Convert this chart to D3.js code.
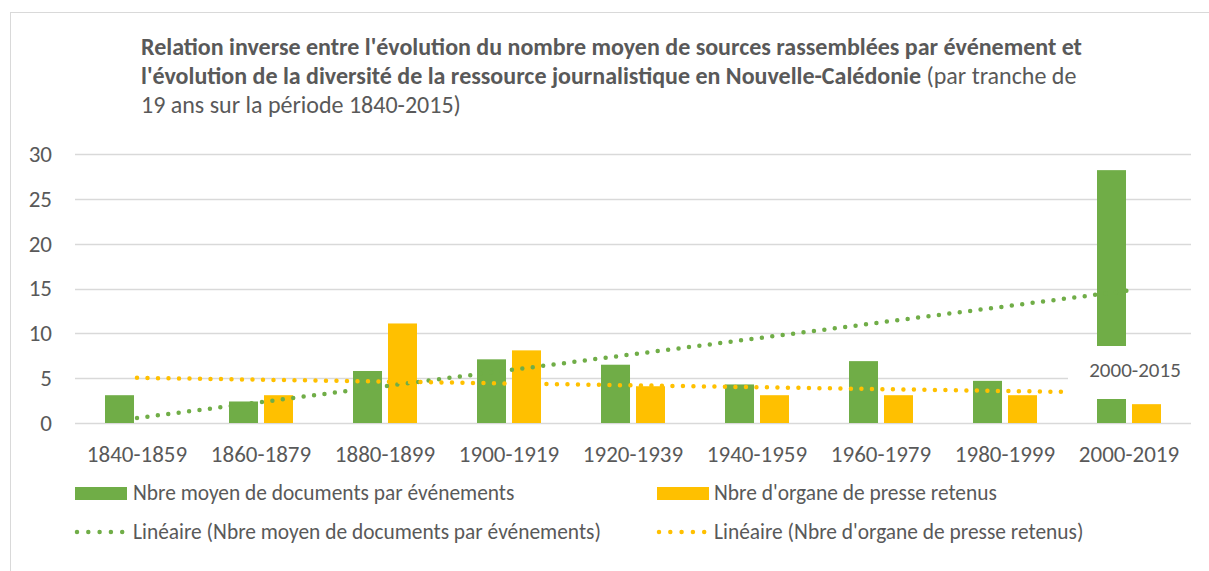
<!doctype html>
<html lang="fr">
  <head>
    <meta charset="utf-8">
    <title>Relation inverse - Nouvelle-Calédonie</title>
    <style>
      body { margin: 0; background: #fff; }
      svg text { font-family: Carlito, Lato, "Open Sans", sans-serif; fill: #595959; }
    </style>
  </head>
  <body>
    <div id="chart"></div>

    <script src="https://cdn.jsdelivr.net/npm/d3@7"></script>
    <script>

    // data
    var periodes = ["1840-1859", "1860-1879", "1880-1899", "1900-1919", "1920-1939",
                    "1940-1959", "1960-1979", "1980-1999", "2000-2019"];
    var documents = [3.1, 2.4, 5.8, 7.1, 6.5, 4.3, 6.9, 4.7, 28.2];
    var organes = [0, 3.1, 11.1, 8.1, 4.1, 3.1, 3.1, 3.1, 2.1];
    var yTicks = [0, 5, 10, 15, 20, 25, 30];
    var serieNames = ["Nbre moyen de documents par événements", "Nbre d'organe de presse retenus"];
    var annotation = "2000-2015";

    var green = "#70ad47", yellow = "#ffc000", grid = "#d9d9d9";

    var width = 1209, height = 571;
    var svg = d3.select("#chart").append("svg")
        .attr("width", width)
        .attr("height", height);

    // outer frame of the chart
    svg.append("rect")
      .attr("x", 10.5).attr("y", 12.5)
      .attr("width", 1230).attr("height", 600)
      .attr("fill", "none").attr("stroke", grid);

    // title, three lines
    var title = svg.append("text").attr("x", 141).attr("font-size", "24px");
    title.append("tspan").attr("x", 141).attr("y", 55).attr("font-weight", "bold")
      .text("Relation inverse entre l'évolution du nombre moyen de sources rassemblées par événement et");
    title.append("tspan").attr("x", 141).attr("y", 84).attr("font-weight", "bold")
      .text("l'évolution de la diversité de la ressource journalistique en Nouvelle-Calédonie");
    title.append("tspan").text(" (par tranche de");
    title.append("tspan").attr("x", 141).attr("y", 113)
      .text("19 ans sur la période 1840-2015)");

    var x = d3.scaleBand()
        .domain(periodes)
        .range([75, 1191])
        .paddingInner(0.484)
        .paddingOuter(0.242);

    var xSub = d3.scaleBand()
        .domain([0, 1])
        .range([0, x.bandwidth()])
        .paddingInner(0.171);

    var y = d3.scaleLinear()
        .domain([0, 30])
        .range([423, 154]);

    // gridlines
    svg.append("g")
      .selectAll("line")
      .data(yTicks)
      .join("line")
      .attr("x1", 75).attr("x2", 1191)
      .attr("y1", function(d){ return Math.round(y(d)) + 0.5; })
      .attr("y2", function(d){ return Math.round(y(d)) + 0.5; })
      .attr("stroke", grid).attr("stroke-width", 1.5);

    // y axis labels
    var yAxis = svg.append("g")
        .attr("transform", "translate(52,0)")
        .call(d3.axisLeft(y).tickValues(yTicks).tickSize(0).tickPadding(0));
    yAxis.select(".domain").remove();
    yAxis.selectAll("text")
      .attr("font-size", "23px")
      .attr("font-family", null)
      .attr("fill", null);

    // x axis labels
    var xAxis = svg.append("g")
        .attr("transform", "translate(0,440)")
        .call(d3.axisBottom(x).tickSize(0).tickPadding(0));
    xAxis.select(".domain").remove();
    xAxis.selectAll("text")
      .attr("dy", "0.95em")
      .attr("font-size", "23px")
      .attr("font-family", null)
      .attr("fill", null);

    // bars
    var series = [documents, organes];
    var colors = [green, yellow];
    series.forEach(function(values, i){
      svg.append("g")
        .selectAll("rect")
        .data(values)
        .join("rect")
        .attr("x", function(d, j){ return x(periodes[j]) + xSub(i); })
        .attr("width", xSub.bandwidth())
        .attr("y", function(d){ return y(d); })
        .attr("height", function(d){ return y(0) - y(d); })
        .attr("fill", colors[i]);
    });

    // linear trendlines (least squares over the category index)
    function linearFit(values){
      var n = values.length;
      var xs = d3.range(1, n + 1);
      var mx = d3.mean(xs), my = d3.mean(values);
      var num = d3.sum(xs, function(v, k){ return (v - mx) * (values[k] - my); });
      var den = d3.sum(xs, function(v){ return (v - mx) * (v - mx); });
      var slope = num / den;
      return [my + slope * (1 - mx), my + slope * (n - mx)];
    }

    var first = x(periodes[0]) + x.bandwidth() / 2;
    var last = x(periodes[periodes.length - 1]) + x.bandwidth() / 2;
    var line = d3.line()
        .x(function(d){ return d[0]; })
        .y(function(d){ return y(d[1]); });

    series.forEach(function(values, i){
      var fit = linearFit(values);
      svg.append("path")
        .attr("d", line([[first, fit[0]], [last, fit[1]]]))
        .attr("fill", "none")
        .attr("stroke", colors[i])
        .attr("stroke-width", 4.5)
        .attr("stroke-linecap", "round")
        .attr("stroke-dasharray", "0 10.5");
    });

    // text box placed over the last bar
    svg.append("rect")
      .attr("x", 1068).attr("y", 346)
      .attr("width", 140).attr("height", 53)
      .attr("fill", "#fff");
    svg.append("text")
      .attr("x", 1135).attr("y", 377)
      .attr("text-anchor", "middle")
      .attr("font-size", "21px")
      .text(annotation);

    // legend
    var legendX = [75, 657], textX = [133, 714];
    series.forEach(function(values, i){
      svg.append("rect")
        .attr("x", legendX[i]).attr("y", 487)
        .attr("width", 52).attr("height", 13)
        .attr("fill", colors[i]);
      svg.append("text")
        .attr("x", textX[i]).attr("y", 500)
        .attr("font-size", "21.4px")
        .text(serieNames[i]);

      svg.append("path")
        .attr("d", "M" + (legendX[i] + 2) + ",532H" + (legendX[i] + 48))
        .attr("stroke", colors[i])
        .attr("stroke-width", 4.5)
        .attr("stroke-linecap", "round")
        .attr("stroke-dasharray", "0 11.3");
      svg.append("text")
        .attr("x", textX[i]).attr("y", 539)
        .attr("font-size", "21.4px")
        .text("Linéaire (" + serieNames[i] + ")");
    });

    </script>
  </body>
</html>
